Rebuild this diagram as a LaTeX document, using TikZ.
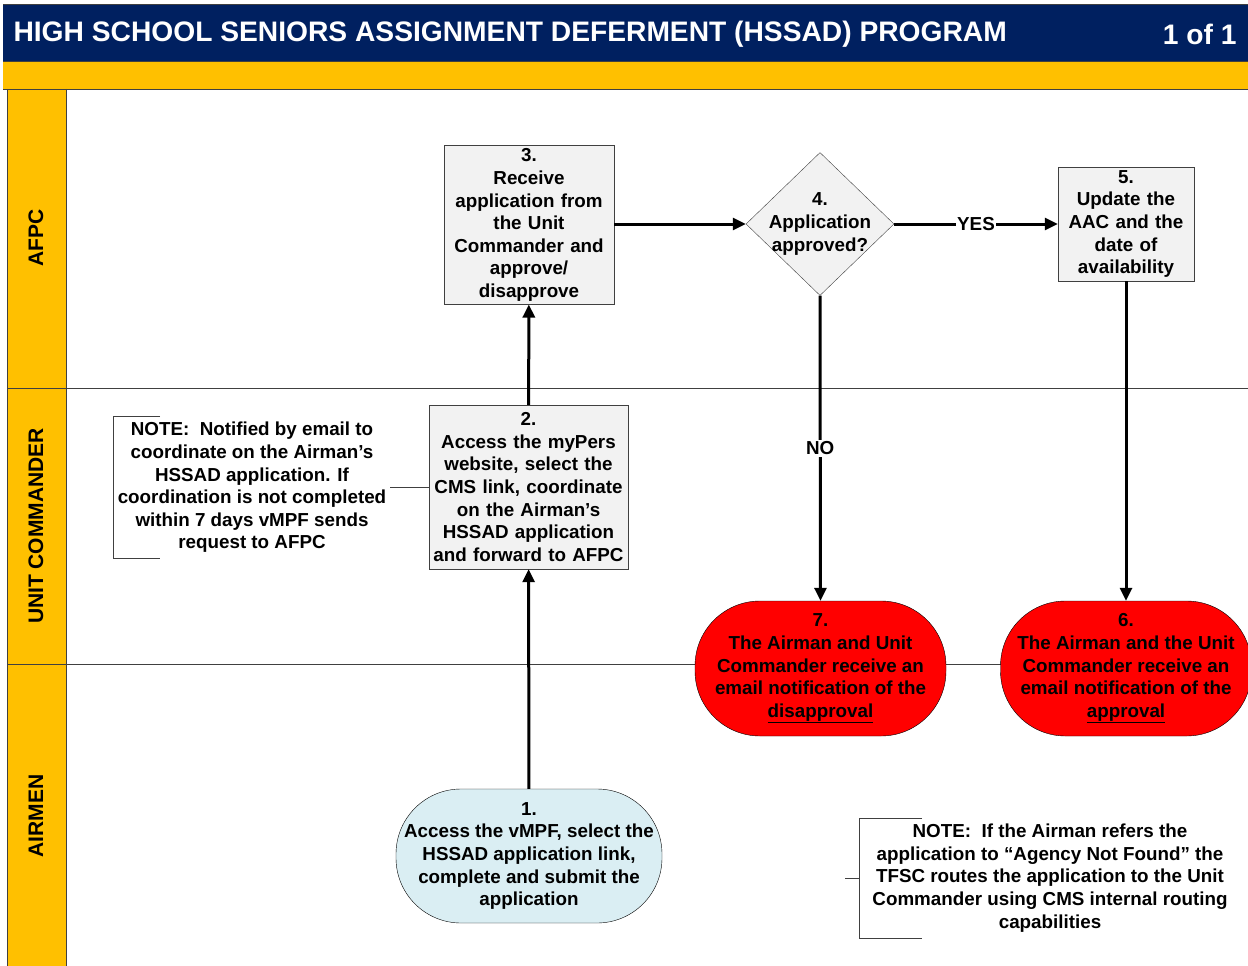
\documentclass[tikz,border=0pt]{standalone}
\usepackage{fontspec}
\setmainfont{Liberation Sans}
\usepackage{tikz}
\usetikzlibrary{arrows.meta}
\usetikzlibrary{shapes.geometric}

\definecolor{hdrblue}{HTML}{002060}
\definecolor{laneyel}{HTML}{FFC000}
\definecolor{boxgray}{HTML}{F2F2F2}
\definecolor{airblue}{HTML}{DAEEF3}
\definecolor{linegray}{HTML}{404040}

\tikzset{
  txt/.style={font=\fontsize{18.8}{22.6}\selectfont\bfseries, align=center},
  stepbox/.style={txt, draw=linegray, fill=boxgray, inner sep=3pt},
  pill/.style={txt, draw=black, rounded corners=65pt, inner sep=0pt,
    minimum width=251pt, minimum height=135pt},
  lanelbl/.style={font=\fontsize{21}{24}\selectfont\bfseries, rotate=90},
  flow/.style={line width=3pt, -{Triangle[length=13pt,width=12pt]}},
  thinline/.style={line width=0.8pt, draw=linegray},
}

\begin{document}
\begin{tikzpicture}[x=1pt,y=-1pt]
    \useasboundingbox (0,0) rectangle (1248,966);

    % header bands
    \fill [hdrblue] (3,4) rectangle (1248,61);
    \draw [thinline] (3,4) -- (1248,4);
    \fill [laneyel] (3,61) rectangle (1248,89);
    \draw [thinline] (3,61) -- (1248,61);
    \path (10,34) node [anchor=west, text=white,
        font=\fontsize{28.2}{30}\selectfont\bfseries] (title)
        {HIGH SCHOOL SENIORS ASSIGNMENT DEFERMENT (HSSAD) PROGRAM};
    \path (1240,34) node [anchor=east, text=white,
        font=\fontsize{28.2}{30}\selectfont\bfseries] (page) {1 of 1};

    % swim lanes
    \fill [laneyel] (7,89) rectangle (66,966);
    \draw [thinline] (3,89) -- (1248,89);
    \draw [thinline] (7,89) -- (7,966);
    \draw [thinline] (66,89) -- (66,966);
    \draw [thinline] (7,388) -- (1248,388);
    \draw [thinline] (7,664) -- (1248,664);
    \path (36,238) node [lanelbl] (afpc) {AFPC};
    \path (36,526) node [lanelbl] (ucmd) {UNIT COMMANDER};
    \path (36,816) node [lanelbl] (airm) {AIRMEN};

    % steps
    \path (529,856) node [pill, fill=airblue, minimum width=266pt,
        minimum height=134pt] (sub) {1.\\Access the vMPF, select the\\HSSAD application link,\\complete and submit the\\application};
    \path (528.5,487) node [stepbox, text width=193pt, minimum height=164pt] (cms)
        {2.\\Access the myPers\\website, select the\\CMS link, coordinate\\on the Airman’s\\HSSAD application\\and forward to AFPC};
    \path (529,225) node [stepbox, text width=164pt, minimum height=156pt] (rcv)
        {3.\\Receive\\application from\\the Unit\\Commander and\\approve/\\disapprove};
    \path (820,224) node [diamond, draw=linegray, fill=boxgray, inner sep=0pt,
        minimum width=148pt, minimum height=143pt] (appr) {};
    \path (appr) node [txt] (apprt) {4.\\Application\\approved?};
    \path (1126,224) node [stepbox, text width=130pt, minimum height=114pt] (upd)
        {5.\\Update the\\AAC and the\\date of\\availability};
    \path (1126,668.5) node [pill, fill=red] (yes)
        {6.\\The Airman and the Unit\\Commander receive an\\email notification of the\\\underline{approval}};
    \path (820.5,668.5) node [pill, fill=red] (no)
        {7.\\The Airman and Unit\\Commander receive an\\email notification of the\\\underline{disapproval}};

    % flow
    \draw [flow] (sub) -- (cms);
    \draw [flow] (cms) -- (rcv);
    \draw [flow] (rcv.east |- appr) -- (appr.west);
    \draw [flow] (appr.east) -- (upd.west)
        node [pos=0.5, fill=white, inner sep=1pt, txt] (yl) {YES};
    \draw [flow] (appr.south) -- (no.north)
        node [pos=0.5, fill=white, inner sep=2pt, txt] (nl) {NO};
    \draw [flow] (upd.south) -- (yes.north);

    % notes
    \path (252,487.5) node [txt] (note1)
        {NOTE:\ \ Notified by email to\\coordinate on the Airman’s\\HSSAD application. If\\coordination is not completed\\within 7 days vMPF sends\\request to AFPC};
    \draw [thinline] (160,416) -- (113,416) -- (113,558) -- (160,558);
    \coordinate (n1end) at (390,487);
    \draw [thinline] (n1end) -- (cms.west);

    \path (1050,878) node [txt] (note2)
        {NOTE:\ \ If the Airman refers the\\application to “Agency Not Found” the\\TFSC routes the application to the Unit\\Commander using CMS internal routing\\capabilities};
    \draw [thinline] (922,818) -- (859,818) -- (859,938) -- (922,938);
    \draw [thinline] (845,878) -- (859,878);
\end{tikzpicture}
\end{document}
